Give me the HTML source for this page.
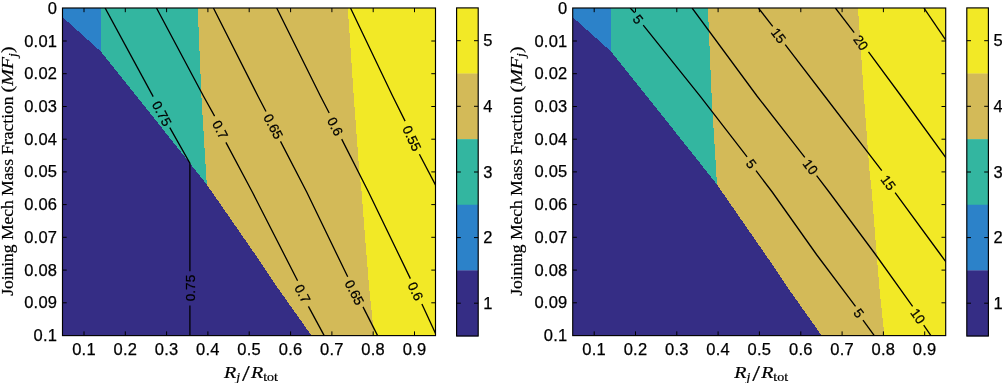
<!DOCTYPE html>
<html lang="en"><head><meta charset="utf-8"><title>Regime maps</title>
<style>html,body{margin:0;padding:0;background:#fff;}body{width:1002px;height:383px;overflow:hidden;}svg{display:block;}
.t{font-family:"Liberation Sans",Arial,Helvetica,sans-serif;font-size:16.5px;fill:#000;stroke:#000;stroke-width:0.25px;letter-spacing:0.25px;}
.c{font-family:"Liberation Sans",Arial,Helvetica,sans-serif;font-size:13.5px;fill:#000;stroke:#000;stroke-width:0.25px;}
.s{font-family:"Liberation Serif","Times New Roman",serif;fill:#000;stroke:#000;stroke-width:0.2px;}
</style></head><body>
<svg width="1002" height="383" viewBox="0 0 1002 383">
<rect width="1002" height="383" fill="#fff"/>
<defs><clipPath id="cl0"><rect x="62.5" y="8.0" width="373.0" height="327.6"/></clipPath>
<clipPath id="cl1"><rect x="572.7" y="8.0" width="373.0" height="327.6"/></clipPath></defs>
<g clip-path="url(#cl0)"><g shape-rendering="crispEdges">
<rect x="62.5" y="8.0" width="373.0" height="327.6" fill="#f2e926"/>
<polygon points="62.5,8.0 347.8,8.0 353.7,96.0 359.2,170.0 361.6,192.0 365.3,240.0 369.2,288.0 374.2,335.6 62.5,335.6" fill="#d3ba58"/>
<polygon points="62.5,8.0 197.7,8.0 201.6,100.0 206.8,184.6 62.5,184.6" fill="#33b6a0"/>
<polygon points="62.5,8.0 100.9,8.0 100.9,60.0 62.5,60.0" fill="#2c82c9"/>
<polygon points="62.5,17.1 100.9,51.6 136.5,96.0 189.9,163.2 206.8,184.6 259.0,260.0 277.8,288.0 311.5,335.6 62.5,335.6" fill="#352d85"/></g>
<g fill="none" stroke="#000" stroke-width="1.3" stroke-linejoin="miter">
<polyline points="105.1,8.0 153.2,96.6"/>
<polyline points="169.8,127.6 189.9,163.2 189.9,271.3"/>
<polyline points="189.9,305.4 189.9,335.6"/>
<polyline points="156.5,8.0 203.4,96.0 214.6,116.1"/>
<polyline points="225.9,142.4 252.3,192.0 297.6,280.8"/>
<polyline points="308.4,306.4 324.2,335.6"/>
<polyline points="213.4,8.0 257.9,96.0 266.0,111.5"/>
<polyline points="280.5,141.4 306.7,192.0 347.7,276.8"/>
<polyline points="363.0,306.9 377.6,335.6"/>
<polyline points="276.7,8.0 320.4,96.0 329.2,113.0"/>
<polyline points="341.7,139.1 368.5,192.0 410.4,278.6"/>
<polyline points="421.9,303.9 436.0,334.5"/>
<polyline points="350.5,8.0 392.6,96.0 405.1,121.1"/>
<polyline points="419.4,154.2 436.0,186.0"/>
</g>
<text class="c" text-anchor="middle" transform="translate(161.9,113.5) rotate(62)" y="4.83">0.75</text>
<text class="c" text-anchor="middle" transform="translate(189.9,288.0) rotate(-90)" y="4.83">0.75</text>
<text class="c" text-anchor="middle" transform="translate(220.3,129.6) rotate(62.5)" y="4.83">0.7</text>
<text class="c" text-anchor="middle" transform="translate(302.6,293.6) rotate(63)" y="4.83">0.7</text>
<text class="c" text-anchor="middle" transform="translate(273.4,126.4) rotate(63)" y="4.83">0.65</text>
<text class="c" text-anchor="middle" transform="translate(354.6,292.4) rotate(63)" y="4.83">0.65</text>
<text class="c" text-anchor="middle" transform="translate(335.2,126.4) rotate(63.5)" y="4.83">0.6</text>
<text class="c" text-anchor="middle" transform="translate(415.6,291.3) rotate(64)" y="4.83">0.6</text>
<text class="c" text-anchor="middle" transform="translate(412.0,138.2) rotate(64)" y="4.83">0.55</text>
</g>
<g stroke="#000" stroke-width="1.0" fill="none">
<path d="M84.0,335.6v-4.2M84.0,8.0v4.2M125.3,335.6v-4.2M125.3,8.0v4.2M166.6,335.6v-4.2M166.6,8.0v4.2M207.9,335.6v-4.2M207.9,8.0v4.2M249.2,335.6v-4.2M249.2,8.0v4.2M290.6,335.6v-4.2M290.6,8.0v4.2M331.9,335.6v-4.2M331.9,8.0v4.2M373.2,335.6v-4.2M373.2,8.0v4.2M414.5,335.6v-4.2M414.5,8.0v4.2M62.5,41.0h4.2M435.5,41.0h-4.2M62.5,73.7h4.2M435.5,73.7h-4.2M62.5,106.5h4.2M435.5,106.5h-4.2M62.5,139.2h4.2M435.5,139.2h-4.2M62.5,171.9h4.2M435.5,171.9h-4.2M62.5,204.6h4.2M435.5,204.6h-4.2M62.5,237.3h4.2M435.5,237.3h-4.2M62.5,270.1h4.2M435.5,270.1h-4.2M62.5,302.8h4.2M435.5,302.8h-4.2"/>
<rect x="62.5" y="8.0" width="373.0" height="327.6" stroke-width="1.15"/>
</g>
<text class="t" text-anchor="middle" x="84.0" y="354.9">0.1</text>
<text class="t" text-anchor="middle" x="125.3" y="354.9">0.2</text>
<text class="t" text-anchor="middle" x="166.6" y="354.9">0.3</text>
<text class="t" text-anchor="middle" x="207.9" y="354.9">0.4</text>
<text class="t" text-anchor="middle" x="249.2" y="354.9">0.5</text>
<text class="t" text-anchor="middle" x="290.6" y="354.9">0.6</text>
<text class="t" text-anchor="middle" x="331.9" y="354.9">0.7</text>
<text class="t" text-anchor="middle" x="373.2" y="354.9">0.8</text>
<text class="t" text-anchor="middle" x="414.5" y="354.9">0.9</text>
<text class="t" text-anchor="end" x="57.3" y="13.8">0</text>
<text class="t" text-anchor="end" x="57.3" y="46.5">0.01</text>
<text class="t" text-anchor="end" x="57.3" y="79.2">0.02</text>
<text class="t" text-anchor="end" x="57.3" y="112.0">0.03</text>
<text class="t" text-anchor="end" x="57.3" y="144.7">0.04</text>
<text class="t" text-anchor="end" x="57.3" y="177.4">0.05</text>
<text class="t" text-anchor="end" x="57.3" y="210.1">0.06</text>
<text class="t" text-anchor="end" x="57.3" y="242.8">0.07</text>
<text class="t" text-anchor="end" x="57.3" y="275.6">0.08</text>
<text class="t" text-anchor="end" x="57.3" y="308.3">0.09</text>
<text class="t" text-anchor="end" x="57.3" y="341.0">0.1</text>
<g transform="translate(224.0,377.6) scale(1.22,1)"><text class="s" font-size="16.4" x="0" y="0"><tspan font-style="italic">R</tspan><tspan font-style="italic" font-size="11.5" dy="3.4">j</tspan><tspan dy="0.3" dx="1.6" font-size="23">/</tspan><tspan font-style="italic" dy="-3.7" dx="0.9">R</tspan><tspan font-size="11.5" dy="3.4">tot</tspan></text></g>
<text class="s" font-size="17.6" transform="translate(13.2,295.8) rotate(-90)" textLength="199.3" lengthAdjust="spacing">Joining Mech Mass Fraction</text>
<text class="s" font-size="17.6" transform="translate(13.2,92.5) rotate(-90)" textLength="46.1" lengthAdjust="spacingAndGlyphs">(<tspan font-style="italic">MF</tspan><tspan font-style="italic" font-size="12" dy="3.4">j</tspan><tspan dy="-3.4">)</tspan></text>
<rect x="456.6" y="7.90" width="21.6" height="65.92" fill="#f2e926"/>
<rect x="456.6" y="73.52" width="21.6" height="65.92" fill="#d3ba58"/>
<rect x="456.6" y="139.14" width="21.6" height="65.92" fill="#33b6a0"/>
<rect x="456.6" y="204.76" width="21.6" height="65.92" fill="#2c82c9"/>
<rect x="456.6" y="270.38" width="21.6" height="65.92" fill="#352d85"/>
<text class="t" x="483.2" y="46.2">5</text>
<text class="t" x="483.2" y="111.8">4</text>
<text class="t" x="483.2" y="177.5">3</text>
<text class="t" x="483.2" y="243.1">2</text>
<text class="t" x="483.2" y="308.7">1</text>
<g stroke="#000" stroke-width="1.0" fill="none"><path d="M456.6,40.7h4.2M478.2,40.7h-4.2M456.6,106.3h4.2M478.2,106.3h-4.2M456.6,172.0h4.2M478.2,172.0h-4.2M456.6,237.6h4.2M478.2,237.6h-4.2M456.6,303.2h4.2M478.2,303.2h-4.2"/><rect x="456.6" y="7.9" width="21.6" height="328.1" stroke-width="1.15"/></g>
<g clip-path="url(#cl1)"><g shape-rendering="crispEdges">
<rect x="572.7" y="8.0" width="373.0" height="327.6" fill="#f2e926"/>
<polygon points="572.7,8.0 858.0,8.0 863.9,96.0 869.4,170.0 871.8,192.0 875.5,240.0 879.4,288.0 884.4,335.6 572.7,335.6" fill="#d3ba58"/>
<polygon points="572.7,8.0 707.9,8.0 711.8,100.0 717.0,184.6 572.7,184.6" fill="#33b6a0"/>
<polygon points="572.7,8.0 611.1,8.0 611.1,60.0 572.7,60.0" fill="#2c82c9"/>
<polygon points="572.7,17.1 611.1,51.6 646.7,96.0 700.1,163.2 717.0,184.6 769.2,260.0 788.0,288.0 821.7,335.6 572.7,335.6" fill="#352d85"/></g>
<g fill="none" stroke="#000" stroke-width="1.3" stroke-linejoin="miter">
<polyline points="630.2,8.0 634.7,12.8"/>
<polyline points="643.2,25.1 700.5,96.7 747.1,156.9"/>
<polyline points="756.0,170.7 772.2,192.0 816.5,254.5 855.5,306.4"/>
<polyline points="863.0,320.2 874.3,335.6"/>
<polyline points="692.1,8.0 757.0,96.0 804.8,157.4"/>
<polyline points="816.6,175.6 829.1,192.0 875.5,254.5 912.6,306.4"/>
<polyline points="923.7,325.2 930.9,335.6"/>
<polyline points="758.4,8.0 772.7,26.3"/>
<polyline points="785.2,44.6 824.6,96.0 881.8,170.7"/>
<polyline points="895.1,192.6 940.5,254.5 946.5,262.7"/>
<polyline points="835.4,8.0 854.2,32.6"/>
<polyline points="868.5,51.9 901.1,96.0 946.5,158.5"/>
<polyline points="923.9,8.0 946.5,41.2"/>
</g>
<text class="c" text-anchor="middle" transform="translate(638.2,19.2) rotate(52)" y="4.83">5</text>
<text class="c" text-anchor="middle" transform="translate(751.4,163.7) rotate(52.5)" y="4.83">5</text>
<text class="c" text-anchor="middle" transform="translate(858.8,313.2) rotate(53)" y="4.83">5</text>
<text class="c" text-anchor="middle" transform="translate(810.5,166.8) rotate(53)" y="4.83">10</text>
<text class="c" text-anchor="middle" transform="translate(918.0,316.0) rotate(53.5)" y="4.83">10</text>
<text class="c" text-anchor="middle" transform="translate(778.6,35.6) rotate(52.5)" y="4.83">15</text>
<text class="c" text-anchor="middle" transform="translate(888.4,182.6) rotate(53.5)" y="4.83">15</text>
<text class="c" text-anchor="middle" transform="translate(861.0,42.6) rotate(53.5)" y="4.83">20</text>
</g>
<g stroke="#000" stroke-width="1.0" fill="none">
<path d="M594.2,335.6v-4.2M594.2,8.0v4.2M635.5,335.6v-4.2M635.5,8.0v4.2M676.8,335.6v-4.2M676.8,8.0v4.2M718.1,335.6v-4.2M718.1,8.0v4.2M759.4,335.6v-4.2M759.4,8.0v4.2M800.8,335.6v-4.2M800.8,8.0v4.2M842.1,335.6v-4.2M842.1,8.0v4.2M883.4,335.6v-4.2M883.4,8.0v4.2M924.7,335.6v-4.2M924.7,8.0v4.2M572.7,41.0h4.2M945.7,41.0h-4.2M572.7,73.7h4.2M945.7,73.7h-4.2M572.7,106.5h4.2M945.7,106.5h-4.2M572.7,139.2h4.2M945.7,139.2h-4.2M572.7,171.9h4.2M945.7,171.9h-4.2M572.7,204.6h4.2M945.7,204.6h-4.2M572.7,237.3h4.2M945.7,237.3h-4.2M572.7,270.1h4.2M945.7,270.1h-4.2M572.7,302.8h4.2M945.7,302.8h-4.2"/>
<rect x="572.7" y="8.0" width="373.0" height="327.6" stroke-width="1.15"/>
</g>
<text class="t" text-anchor="middle" x="594.2" y="354.9">0.1</text>
<text class="t" text-anchor="middle" x="635.5" y="354.9">0.2</text>
<text class="t" text-anchor="middle" x="676.8" y="354.9">0.3</text>
<text class="t" text-anchor="middle" x="718.1" y="354.9">0.4</text>
<text class="t" text-anchor="middle" x="759.4" y="354.9">0.5</text>
<text class="t" text-anchor="middle" x="800.8" y="354.9">0.6</text>
<text class="t" text-anchor="middle" x="842.1" y="354.9">0.7</text>
<text class="t" text-anchor="middle" x="883.4" y="354.9">0.8</text>
<text class="t" text-anchor="middle" x="924.7" y="354.9">0.9</text>
<text class="t" text-anchor="end" x="567.5" y="13.8">0</text>
<text class="t" text-anchor="end" x="567.5" y="46.5">0.01</text>
<text class="t" text-anchor="end" x="567.5" y="79.2">0.02</text>
<text class="t" text-anchor="end" x="567.5" y="112.0">0.03</text>
<text class="t" text-anchor="end" x="567.5" y="144.7">0.04</text>
<text class="t" text-anchor="end" x="567.5" y="177.4">0.05</text>
<text class="t" text-anchor="end" x="567.5" y="210.1">0.06</text>
<text class="t" text-anchor="end" x="567.5" y="242.8">0.07</text>
<text class="t" text-anchor="end" x="567.5" y="275.6">0.08</text>
<text class="t" text-anchor="end" x="567.5" y="308.3">0.09</text>
<text class="t" text-anchor="end" x="567.5" y="341.0">0.1</text>
<g transform="translate(734.2,377.6) scale(1.22,1)"><text class="s" font-size="16.4" x="0" y="0"><tspan font-style="italic">R</tspan><tspan font-style="italic" font-size="11.5" dy="3.4">j</tspan><tspan dy="0.3" dx="1.6" font-size="23">/</tspan><tspan font-style="italic" dy="-3.7" dx="0.9">R</tspan><tspan font-size="11.5" dy="3.4">tot</tspan></text></g>
<text class="s" font-size="17.6" transform="translate(521.8,295.8) rotate(-90)" textLength="199.3" lengthAdjust="spacing">Joining Mech Mass Fraction</text>
<text class="s" font-size="17.6" transform="translate(521.8,92.5) rotate(-90)" textLength="46.1" lengthAdjust="spacingAndGlyphs">(<tspan font-style="italic">MF</tspan><tspan font-style="italic" font-size="12" dy="3.4">j</tspan><tspan dy="-3.4">)</tspan></text>
<rect x="966.8" y="7.90" width="21.6" height="65.92" fill="#f2e926"/>
<rect x="966.8" y="73.52" width="21.6" height="65.92" fill="#d3ba58"/>
<rect x="966.8" y="139.14" width="21.6" height="65.92" fill="#33b6a0"/>
<rect x="966.8" y="204.76" width="21.6" height="65.92" fill="#2c82c9"/>
<rect x="966.8" y="270.38" width="21.6" height="65.92" fill="#352d85"/>
<text class="t" x="993.4" y="46.2">5</text>
<text class="t" x="993.4" y="111.8">4</text>
<text class="t" x="993.4" y="177.5">3</text>
<text class="t" x="993.4" y="243.1">2</text>
<text class="t" x="993.4" y="308.7">1</text>
<g stroke="#000" stroke-width="1.0" fill="none"><path d="M966.8,40.7h4.2M988.4,40.7h-4.2M966.8,106.3h4.2M988.4,106.3h-4.2M966.8,172.0h4.2M988.4,172.0h-4.2M966.8,237.6h4.2M988.4,237.6h-4.2M966.8,303.2h4.2M988.4,303.2h-4.2"/><rect x="966.8" y="7.9" width="21.6" height="328.1" stroke-width="1.15"/></g>
</svg></body></html>
